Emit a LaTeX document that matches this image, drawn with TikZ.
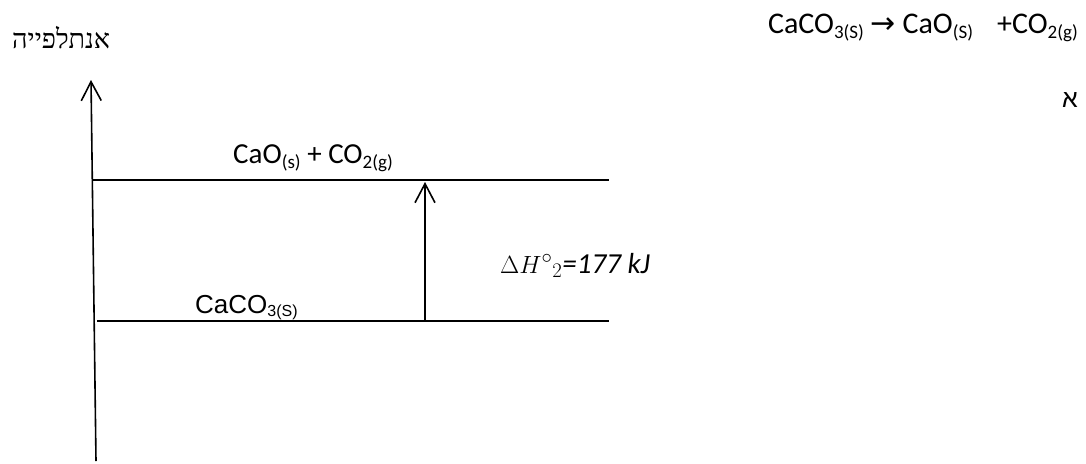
\documentclass[tikz,border=0pt]{standalone}
\usepackage{fontspec}
\setmainfont{Carlito}
\newfontfamily\arialfont{Liberation Sans}
\newfontfamily\hebfont[Script=Hebrew]{Liberation Serif}
\newfontfamily\hebsans[Script=Hebrew]{Liberation Sans}
\newfontfamily\dejavu{DejaVu Sans}
\TeXXeTstate=1
\usetikzlibrary{arrows.meta}
\newcommand{\chsub}[1]{\raisebox{-0.18em}{\fontsize{19}{19}\selectfont #1}}
\newcommand{\arsub}[1]{\raisebox{-0.12em}{\fontsize{16}{16}\selectfont #1}}
\begin{document}
\begin{tikzpicture}[x=1pt,y=-1pt,
  lvl/.style={line width=1.6pt},
  barb/.style={line width=1.6pt,-{Straight Barb[length=19pt,width=20pt,line width=1.6pt]}},
  lbl/.style={inner sep=0pt,font=\fontsize{29}{31}\selectfont}]
\useasboundingbox (0,0) rectangle (1086,463);
% axis
\coordinate (axbot) at (96,461);
\coordinate (axtop) at (91,80);
\draw[barb] (axbot) -- (axtop);
% levels
\coordinate (hiL) at (92,180);
\coordinate (hiR) at (609,180);
\coordinate (loL) at (97,321);
\coordinate (loR) at (609,321);
\draw[lvl] (hiL) -- (hiR);
\draw[lvl] (loL) -- (loR);
% delta H arrow
\coordinate (dhB) at (425,321);
\coordinate (dhT) at (425,182);
\draw[barb] (dhB) -- (dhT);
% labels
\node[lbl,anchor=base west] (prod) at (233,163) {CaO\chsub{(s)} + CO\chsub{2(g)}};
\node[inner sep=0pt,anchor=base west,font=\arialfont\fontsize{26}{28}\selectfont] (react) at (195,313) {CaCO\arsub{3(S)}};
\node[lbl,anchor=base west] (dh) at (500,273) {$\Delta H^{\circ}{}_{2}$\textit{=177 kJ}};
\node[inner sep=0pt,anchor=base east,font=\fontsize{30}{32}\selectfont] (eq) at (1078,33) {CaCO\chsub{3(S)} {\dejavu\fontsize{30}{32}\selectfont →} CaO\chsub{(S)}\hspace{0.8em}+CO\chsub{2(g)}};
\node[inner sep=0pt,anchor=base west,font=\fontsize{27}{29}\selectfont] (ent) at (12,48) {\hebfont\beginR אנתלפייה\endR};
\node[inner sep=0pt,anchor=base east,font=\fontsize{25}{27}\selectfont] (alef) at (1078,107) {\hebsans\beginR א\endR};
\end{tikzpicture}
\end{document}
